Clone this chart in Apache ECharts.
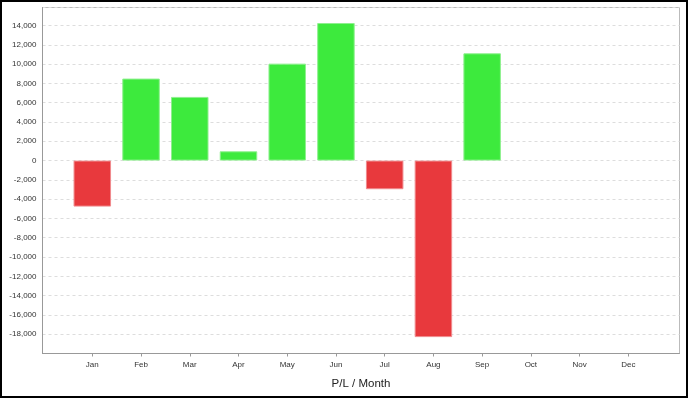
<!DOCTYPE html>
<html>
<head>
<meta charset="utf-8">
<style>
  html, body { margin: 0; padding: 0; background: #fff; }
  #chart { width: 688px; height: 398px; }
</style>
<script src="https://cdn.jsdelivr.net/npm/echarts@6/dist/echarts.min.js"></script>
</head>
<body>
<div id="chart"></div>
<script>
const months = ['Jan','Feb','Mar','Apr','May','Jun','Jul','Aug','Sep','Oct','Nov','Dec'];
const profitLoss = [-4770, 8500, 6600, 960, 10050, 14260, -2970, -18300, 11120, null, null, null];
const yTicks = [-18000,-16000,-14000,-12000,-10000,-8000,-6000,-4000,-2000,0,2000,4000,6000,8000,10000,12000,14000];
const axisTitle = 'P/L / Month';

const positions = months.map((m, i) => i + 1);
const barData = profitLoss.map((v, i) => ({
  value: [positions[i], v],
  itemStyle: v !== null && v < 0
    ? { color: '#e8393d', borderColor: '#f08a8d', borderWidth: 1 }
    : { color: '#3dea3d', borderColor: '#8ef08e', borderWidth: 1 }
}));

const chart = echarts.init(document.getElementById('chart'), null, { renderer: 'canvas' });
chart.setOption({
  animation: false,
  backgroundColor: '#fff',
  grid: {
    left: 42.5, right: 8.5, top: 7.5, bottom: 44.5,
    show: true, borderColor: '#bbb', borderWidth: 1,
    containLabel: false, outerBoundsMode: 'none'
  },
  xAxis: {
    type: 'value',
    min: -0.022,
    max: 13.05,
    name: axisTitle,
    nameLocation: 'middle',
    nameGap: 24,
    nameTextStyle: { fontFamily: 'Liberation Sans, Arial', fontSize: 11.5, color: '#222' },
    axisLine: { show: true, onZero: false, lineStyle: { color: '#999' } },
    axisTick: { show: true, length: 3, customValues: positions, lineStyle: { color: '#999' } },
    axisLabel: {
      customValues: positions,
      formatter: v => months[Math.round(v) - 1] || '',
      fontFamily: 'Liberation Sans, Arial', fontSize: 8, color: '#333', margin: 7
    },
    splitLine: { show: false }
  },
  yAxis: {
    type: 'value',
    min: -20000,
    max: 15870,
    interval: 2000,
    axisLine: { show: true, onZero: false, lineStyle: { color: '#999' } },
    axisTick: { show: false },
    axisLabel: {
      customValues: yTicks,
      fontFamily: 'Liberation Sans, Arial', fontSize: 8, color: '#333', margin: 6
    },
    splitLine: { show: true, lineStyle: { color: '#ddd', type: [3, 3] } }
  },
  series: [{
    type: 'bar',
    data: barData,
    barWidth: 37.5
  }],
  graphic: [{
    type: 'rect',
    shape: { x: 1, y: 1, width: 686, height: 396 },
    style: { fill: null, stroke: '#000', lineWidth: 2 },
    silent: true
  }]
});
</script>
</body>
</html>
